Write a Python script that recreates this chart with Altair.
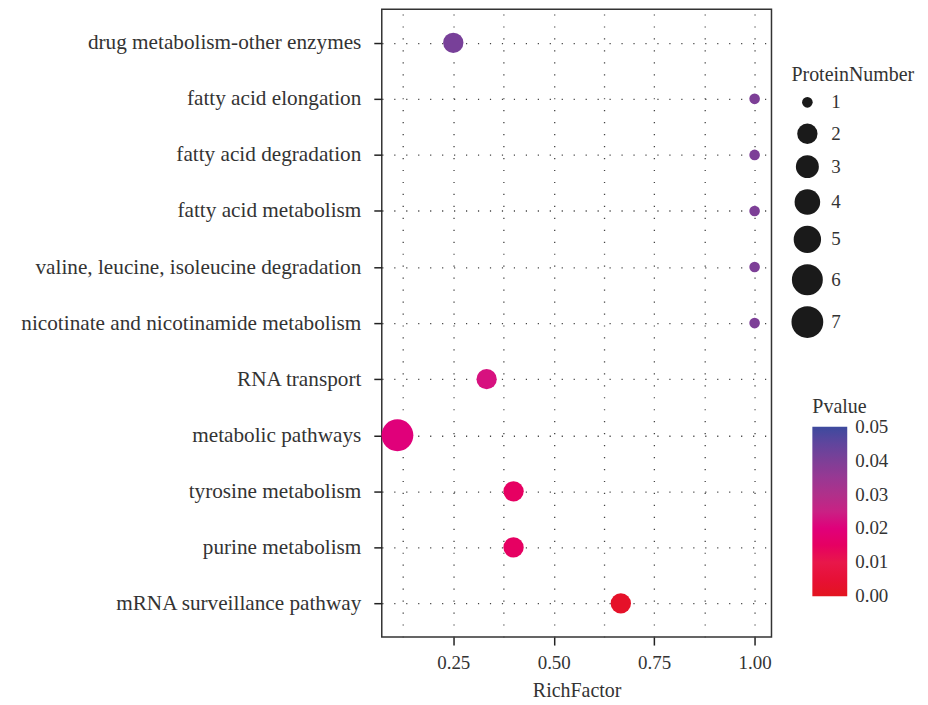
import altair as alt
import pandas as pd

pathways = [
    "drug metabolism-other enzymes",
    "fatty acid elongation",
    "fatty acid degradation",
    "fatty acid metabolism",
    "valine, leucine, isoleucine degradation",
    "nicotinate and nicotinamide metabolism",
    "RNA transport",
    "metabolic pathways",
    "tyrosine metabolism",
    "purine metabolism",
    "mRNA surveillance pathway",
]
rich_factor = [0.25, 1.0, 1.0, 1.0, 1.0, 1.0, 0.333, 0.111, 0.4, 0.4, 0.667]
protein_number = [2, 1, 1, 1, 1, 1, 2, 7, 2, 2, 2]
pvalue = [0.041, 0.040, 0.040, 0.040, 0.040, 0.040, 0.022, 0.020, 0.015, 0.015, 0.002]

size_values = [1, 2, 3, 4, 5, 6, 7]
size_areas = [113, 415, 531, 660, 755, 962, 1018]
color_stops = [0.0, 0.01, 0.02, 0.03, 0.04, 0.05]
color_range = ["#E3141F", "#E8174A", "#E0007A", "#B0308A", "#7D3F97", "#3D4A9E"]
color_labels = [0.00001, 0.01, 0.02, 0.03, 0.04, 0.04999]
x_grid = [0.125, 0.25, 0.375, 0.5, 0.625, 0.75, 0.875, 1.0]

df = pd.DataFrame({
    "Pathway": pathways,
    "RichFactor": rich_factor,
    "ProteinNumber": protein_number,
    "Pvalue": pvalue,
})

FONT = "Liberation Serif"

chart = alt.Chart(df).mark_circle(opacity=1).encode(
    x=alt.X(
        "RichFactor:Q",
        scale=alt.Scale(domain=[0.072, 1.042], nice=False, zero=False),
        axis=alt.Axis(
            values=x_grid,
            labelExpr="datum.value % 0.25 == 0 ? format(datum.value, '.2f') : ''",
            tickOpacity={"condition": {"test": "datum.value % 0.25 == 0", "value": 1}, "value": 0},
            title="RichFactor",
            labelFontSize=19,
            labelPadding=9,
            titlePadding=8,
        ),
    ),
    y=alt.Y(
        "Pathway:N",
        sort=pathways,
        scale=alt.Scale(type="point", padding=0.6),
        axis=alt.Axis(title=None, minExtent=373, maxExtent=373, labelLimit=400,
                      labelFontSize=21.3, labelPadding=13),
    ),
    size=alt.Size(
        "ProteinNumber:Q",
        scale=alt.Scale(domain=size_values, range=size_areas),
        legend=alt.Legend(
            title="ProteinNumber",
            values=size_values,
            orient="none",
            legendX=411,
            legendY=56,
            symbolFillColor="#1a1a1a",
            symbolStrokeWidth=0,
            symbolType="circle",
            rowPadding=10.5,
            labelOffset=8,
            titlePadding=8,
        ),
    ),
    color=alt.Color(
        "Pvalue:Q",
        scale=alt.Scale(domain=color_stops, range=color_range),
        legend=alt.Legend(
            title="Pvalue",
            orient="none",
            legendX=432,
            legendY=389,
            gradientLength=170,
            gradientThickness=35,
            values=color_labels,
            format=".2f",
            direction="vertical",
            titlePadding=10,
            labelOffset=8,
            labelBaseline="middle",
        ),
    ),
).properties(
    width=391,
    height=630,
    padding={"left": 2, "top": 0, "right": 5, "bottom": 5},
).configure_view(
    stroke="#333333",
    strokeWidth=1.5,
).configure_axis(
    labelFont=FONT,
    titleFont=FONT,
    titleFontSize=20,
    labelColor="#333333",
    titleColor="#333333",
    titleFontWeight="normal",
    domain=False,
    tickColor="#222222",
    tickWidth=1.5,
    tickSize=8,
    grid=True,
    gridColor="#444444",
    gridDash=[1.2, 10.8],
    gridWidth=1.3,
).configure_legend(
    labelFont=FONT,
    titleFont=FONT,
    labelFontSize=19,
    titleFontSize=20,
    labelColor="#333333",
    titleColor="#333333",
    titleFontWeight="normal",
    gradientStrokeWidth=0,
)

chart.save("out.html", embed_options={"renderer": "svg", "actions": False})
